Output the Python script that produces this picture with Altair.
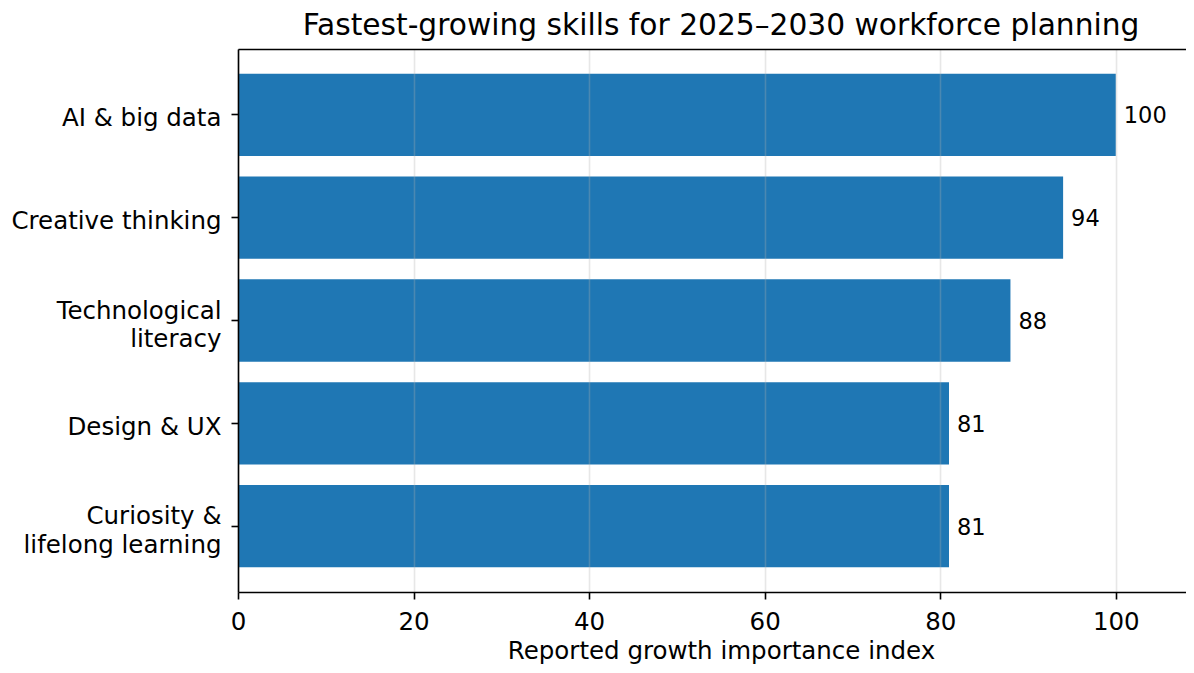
import altair as alt
import pandas as pd

skills = ["AI & big data", "Creative thinking", "Technological\nliteracy",
          "Design & UX", "Curiosity &\nlifelong learning"]
values = [100, 94, 88, 81, 81]
x_ticks = [0, 20, 40, 60, 80, 100]

df = pd.DataFrame({"skill": skills, "value": values})

FONT = "DejaVu Sans"

y_enc = alt.Y(
    "skill:N", sort=skills,
    scale=alt.Scale(paddingInner=0.2, paddingOuter=0.24),
    axis=alt.Axis(
        title=None,
        labelExpr="split(datum.label, '\\n')",
        labelFontSize=24.5, labelColor="black", labelFont=FONT,
        labelLineHeight=28.5, labelPadding=10, labelLimit=0,
        labelOffset={"condition": {"test": "indexof(datum.value, '\\n') >= 0",
                                   "value": -9},
                     "value": 4.5},
        tickSize=7, tickColor="black", tickWidth=1.6,
        domainColor="black", domainWidth=1.6, zindex=1, grid=False,
    ),
)

bars = alt.Chart(df).mark_bar(color="#1f77b4").encode(
    x=alt.X(
        "value:Q",
        scale=alt.Scale(domain=[0, 108], nice=False, zero=True),
        axis=alt.Axis(
            values=x_ticks, format="d",
            title="Reported growth importance index",
            grid=True, gridColor="#b0b0b0", gridOpacity=0.3, gridWidth=1.6,
            domainColor="black", domainWidth=1.6,
            tickColor="black", tickWidth=1.6, tickSize=7,
            labelFontSize=24.5, labelColor="black", labelFont=FONT,
            labelPadding=11, labelFlush=False,
            titleFontSize=24.5, titleFontWeight="normal", titleColor="black",
            titleFont=FONT, titleX=483, titleY=66.5,
            titleBaseline="alphabetic", titleAlign="center",
            zindex=1,
        ),
    ),
    y=y_enc,
)

labels = alt.Chart(df).mark_text(
    align="left", baseline="middle", dx=8, dy=1.5, fontSize=22.5, font=FONT, color="black"
).encode(
    x=alt.X(
        "value:Q",
        axis=alt.Axis(orient="top", labels=False, ticks=False, grid=False,
                      title=None, domainColor="black", domainWidth=1.6, zindex=1),
    ),
    y=y_enc,
    text=alt.Text("value:Q", format="d"),
)

chart = alt.layer(bars, labels).resolve_axis(x="independent").properties(
    width=948,
    height=543,
    title=alt.Title(
        "Fastest-growing skills for 2025–2030 workforce planning",
        fontSize=29.7, fontWeight="normal", color="black", font=FONT,
        anchor="middle", dx=9, dy=29.5, baseline="alphabetic", offset=14,
    ),
    autosize=alt.AutoSizeParams(type="none"),
    padding={"left": 230, "top": 41, "right": 0, "bottom": 72},
).configure_view(stroke=None).configure(font=FONT)

chart.save("out.html", embed_options={"renderer": "svg", "actions": False})
